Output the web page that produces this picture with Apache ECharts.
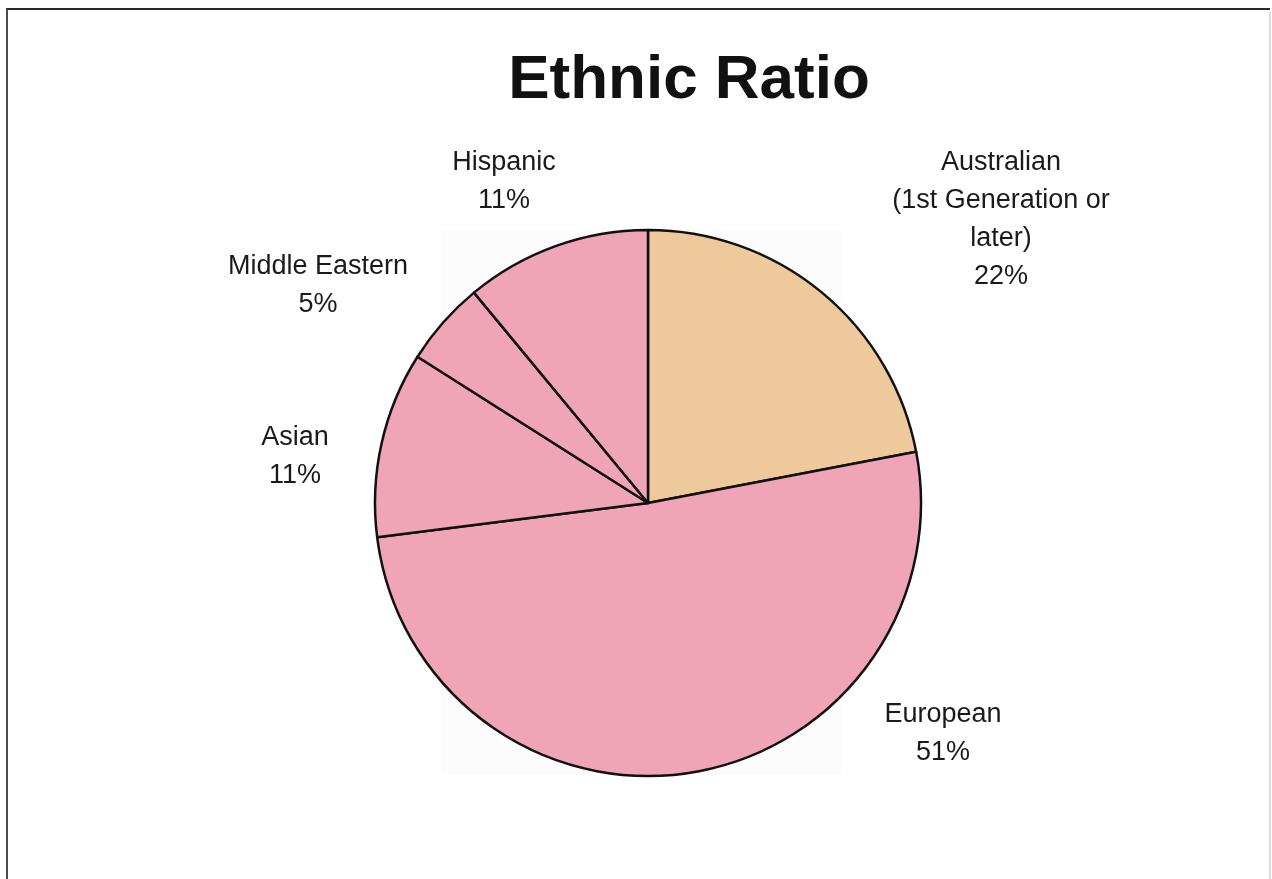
<!DOCTYPE html>
<html>
<head>
<meta charset="utf-8">
<title>Ethnic Ratio</title>
<script src="https://cdn.jsdelivr.net/npm/echarts@6/dist/echarts.min.js"></script>
<style>
  html, body { margin: 0; padding: 0; background: #ffffff; }
  #chart { width: 1272px; height: 879px; }
</style>
</head>
<body>
<div id="chart"></div>
<script>
// Ethnic groups, clockwise from 12 o'clock
const categories = [
  'Australian\n(1st Generation or\nlater)',
  'European',
  'Asian',
  'Middle Eastern',
  'Hispanic'
];
// Share of each group (%)
const shares = [22, 51, 11, 5, 11];

// Slice fills
const sliceColors = ['#edc99c', '#f0a4b7', '#f0a4b7', '#f0a4b7', '#f0a4b7'];

// Where each slice's label block is centred (px)
const labelCenters = [
  [1001, 220],
  [943, 734],
  [295, 457],
  [318, 286],
  [504, 182]
];

const chart = echarts.init(document.getElementById('chart'), null, { renderer: 'canvas' });

const pieData = categories.map((name, i) => ({
  name: name,
  value: shares[i],
  itemStyle: { color: sliceColors[i] }
}));

chart.setOption({
  backgroundColor: '#ffffff',
  animation: false,
  title: {
    text: 'Ethnic Ratio',
    left: 684,
    top: 45,
    textAlign: 'center',
    textStyle: {
      fontFamily: 'Liberation Sans, Arial, sans-serif',
      fontSize: 62,
      fontWeight: 'bold',
      color: '#111111'
    }
  },
  graphic: [
    // faint backing behind the pie
    { type: 'rect', z: -10, shape: { x: 441, y: 230, width: 401, height: 545 },
      style: { fill: '#fcfcfc' } },
    // chart frame
    { type: 'line', shape: { x1: 6, y1: 9, x2: 1270, y2: 9 },
      style: { stroke: '#2a2a2a', lineWidth: 2 } },
    { type: 'line', shape: { x1: 7, y1: 9, x2: 7, y2: 879 },
      style: { stroke: '#4a4a4a', lineWidth: 2 } },
    { type: 'line', shape: { x1: 1270, y1: 12, x2: 1270, y2: 879 },
      style: { stroke: '#d0d0d0', lineWidth: 1.5 } }
  ],
  series: [{
    type: 'pie',
    center: [648, 503],
    radius: 273,
    startAngle: 90,
    clockwise: true,
    avoidLabelOverlap: false,
    silent: true,
    data: pieData,
    itemStyle: {
      borderColor: '#111111',
      borderWidth: 2.5
    },
    label: {
      show: true,
      position: 'outside',
      formatter: (p) => p.name + '\n' + p.value + '%',
      fontFamily: 'Liberation Sans, Arial, sans-serif',
      fontSize: 27,
      lineHeight: 38,
      color: '#1a1a1a',
      align: 'center'
    },
    labelLine: { show: false },
    labelLayout: (params) => {
      const c = labelCenters[params.dataIndex];
      return { x: c[0], y: c[1], align: 'center', verticalAlign: 'middle' };
    }
  }]
});
</script>
</body>
</html>
